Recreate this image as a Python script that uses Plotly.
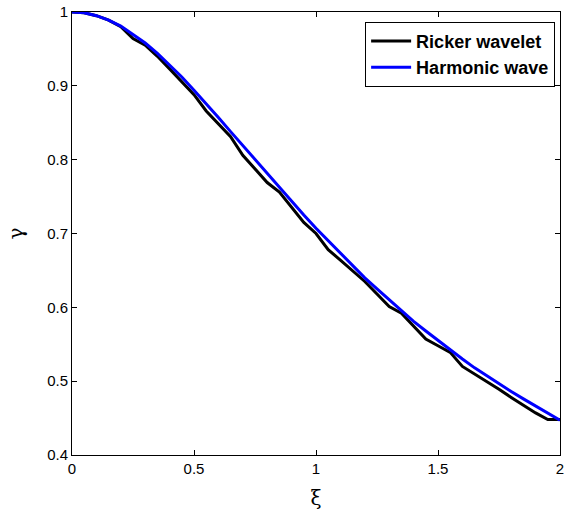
import plotly.graph_objects as go

# Dimensionless frequency samples
xi = [round(0.05 * i, 2) for i in range(41)]

# Ratio gamma for a Ricker wavelet source
gamma_ricker = [
    1.000, 0.999, 0.995, 0.989, 0.980, 0.964, 0.955, 0.940, 0.923, 0.906,
    0.888, 0.866, 0.849, 0.831, 0.806, 0.787, 0.769, 0.756, 0.736, 0.715,
    0.700, 0.678, 0.664, 0.650, 0.635, 0.618, 0.601, 0.592, 0.575, 0.557,
    0.548, 0.539, 0.520, 0.510, 0.499, 0.489, 0.478, 0.467, 0.457, 0.448,
    0.448,
]

# Ratio gamma for a harmonic wave source
gamma_harmonic = [
    1.000, 0.999, 0.995, 0.989, 0.981, 0.970, 0.958, 0.944, 0.928, 0.912,
    0.894, 0.876, 0.857, 0.838, 0.819, 0.800, 0.781, 0.762, 0.743, 0.725,
    0.707, 0.690, 0.673, 0.656, 0.640, 0.625, 0.610, 0.595, 0.581, 0.568,
    0.555, 0.542, 0.530, 0.518, 0.507, 0.496, 0.486, 0.476, 0.466, 0.456,
    0.447,
]

x_ticks = [0, 0.5, 1, 1.5, 2]
x_ticklabels = ["0", "0.5", "1", "1.5", "2"]
y_ticks = [0.4, 0.5, 0.6, 0.7, 0.8, 0.9, 1.0]
y_ticklabels = ["0.4", "0.5", "0.6", "0.7", "0.8", "0.9", "1"]

fig = go.Figure()
fig.add_trace(go.Scatter(x=xi, y=gamma_ricker, mode="lines", name="<b>Ricker wavelet</b>",
                         line=dict(color="black", width=3)))
fig.add_trace(go.Scatter(x=xi, y=gamma_harmonic, mode="lines", name="<b>Harmonic wave</b>",
                         line=dict(color="#0000ff", width=3)))

axis_common = dict(
    showline=True, linecolor="black", linewidth=1, mirror="ticks",
    ticks="inside", ticklen=5, tickwidth=1, tickcolor="black",
    showgrid=False, zeroline=False, ticklabeloverflow="allow", automargin=False,
    tickfont=dict(family="Liberation Sans, Arial, sans-serif", size=15, color="black"),
)

fig.update_layout(
    width=564, height=512,
    margin=dict(l=72, r=4, t=12, b=57, autoexpand=False),
    paper_bgcolor="white", plot_bgcolor="white",
    xaxis=dict(range=[0, 2], tickvals=x_ticks, ticktext=x_ticklabels,
               title=dict(text="ξ", standoff=14,
                          font=dict(family="DejaVu Serif, serif", size=20, color="black")),
               **axis_common),
    yaxis=dict(range=[0.4, 1], tickvals=y_ticks, ticktext=y_ticklabels,
               title=dict(text="γ", standoff=18,
                          font=dict(family="DejaVu Serif, serif", size=20, color="black")),
               **axis_common),
    legend=dict(x=0.99, y=0.978, xanchor="right", yanchor="top",
                bordercolor="black", borderwidth=1, bgcolor="white",
                font=dict(family="Liberation Sans, Arial, sans-serif", size=18, color="black"),
                tracegroupgap=0, itemwidth=40),
    showlegend=True,
)

fig.write_html("out.html")
